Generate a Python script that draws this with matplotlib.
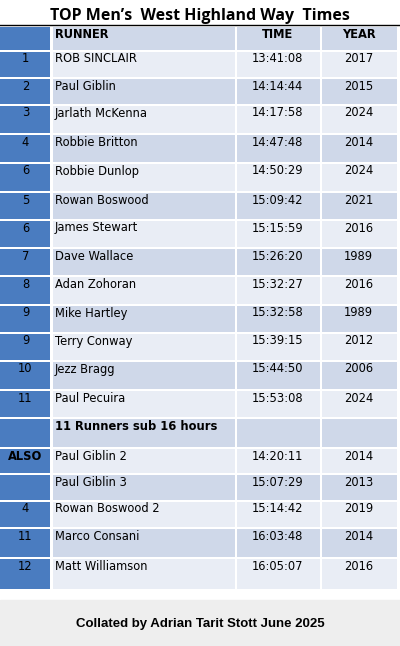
import matplotlib.pyplot as plt
from matplotlib.patches import Rectangle

title = "TOP Men’s  West Highland Way  Times"
footer = "Collated by Adrian Tarit Stott June 2025"
headers = ["", "RUNNER", "TIME", "YEAR"]
ranks = ["1", "2", "3", "4", "6", "5", "6", "7", "8", "9", "9", "10", "11",
         "", "ALSO", "", "4", "11", "12"]
runners = ["ROB SINCLAIR", "Paul Giblin", "Jarlath McKenna", "Robbie Britton",
           "Robbie Dunlop", "Rowan Boswood", "James Stewart", "Dave Wallace",
           "Adan Zohoran", "Mike Hartley", "Terry Conway", "Jezz Bragg",
           "Paul Pecuira", "11 Runners sub 16 hours", "Paul Giblin 2",
           "Paul Giblin 3", "Rowan Boswood 2", "Marco Consani", "Matt Williamson"]
times = ["13:41:08", "14:14:44", "14:17:58", "14:47:48", "14:50:29", "15:09:42",
         "15:15:59", "15:26:20", "15:32:27", "15:32:58", "15:39:15", "15:44:50",
         "15:53:08", "", "14:20:11", "15:07:29", "15:14:42", "16:03:48", "16:05:07"]
years = ["2017", "2015", "2024", "2014", "2024", "2021", "2016", "1989", "2016",
         "1989", "2012", "2006", "2024", "", "2014", "2013", "2019", "2014", "2016"]
row_h = [27, 27, 29, 29, 29, 28, 28, 28, 29, 28, 28, 29, 28, 30, 26, 27, 27, 30, 32]

W, H = 400, 646
fig = plt.figure(figsize=(4, 6.46), dpi=100)
ax = fig.add_axes([0, 0, 1, 1])
ax.set_xlim(0, W)
ax.set_ylim(H, 0)
ax.axis("off")

cols = [0, 51, 235, 320, 397]
blue = "#4a7cc0"
light = "#e9edf5"
dark = "#cfd8e9"
gap = 1.5

ax.add_patch(Rectangle((0, 600), W, 46, color="#eeeeee", zorder=0))
ax.text(W / 2, 16, title, ha="center", va="center", fontsize=11.5,
        fontweight="bold", family="Open Sans")
ax.plot([0, W], [24.5, 24.5], color="black", lw=1)


def draw_row(y, h, cells, bg, bold=False, rank_bold=False):
    for i in range(4):
        x0, x1 = cols[i], cols[i + 1]
        c = blue if i == 0 else bg
        ax.add_patch(Rectangle((x0 + (gap if i else 0), y + gap), x1 - x0 - gap,
                               h - gap, color=c, lw=0))
        t = cells[i]
        if not t:
            continue
        if i == 1:
            ax.text(x0 + 4, y + 9, t, ha="left", va="center", fontsize=8.3,
                    fontweight="bold" if bold else "normal", family="DejaVu Sans")
        else:
            ax.text((x0 + x1) / 2, y + 9, t, ha="center", va="center", fontsize=8.3,
                    fontweight="bold" if (bold or (i == 0 and rank_bold)) else "normal",
                    family="DejaVu Sans")


y = 25
draw_row(y, 25, headers, dark, bold=True)
y += 25
for k in range(len(runners)):
    bg = light if k % 2 == 0 else dark
    draw_row(y, row_h[k], [ranks[k], runners[k], times[k], years[k]], bg,
             bold=(k == 13), rank_bold=(ranks[k] == "ALSO"))
    y += row_h[k]

ax.text(W / 2, 624, footer, ha="center", va="center", fontsize=9.5,
        fontweight="bold", family="Liberation Sans")

fig.savefig("out.png", dpi=100)
